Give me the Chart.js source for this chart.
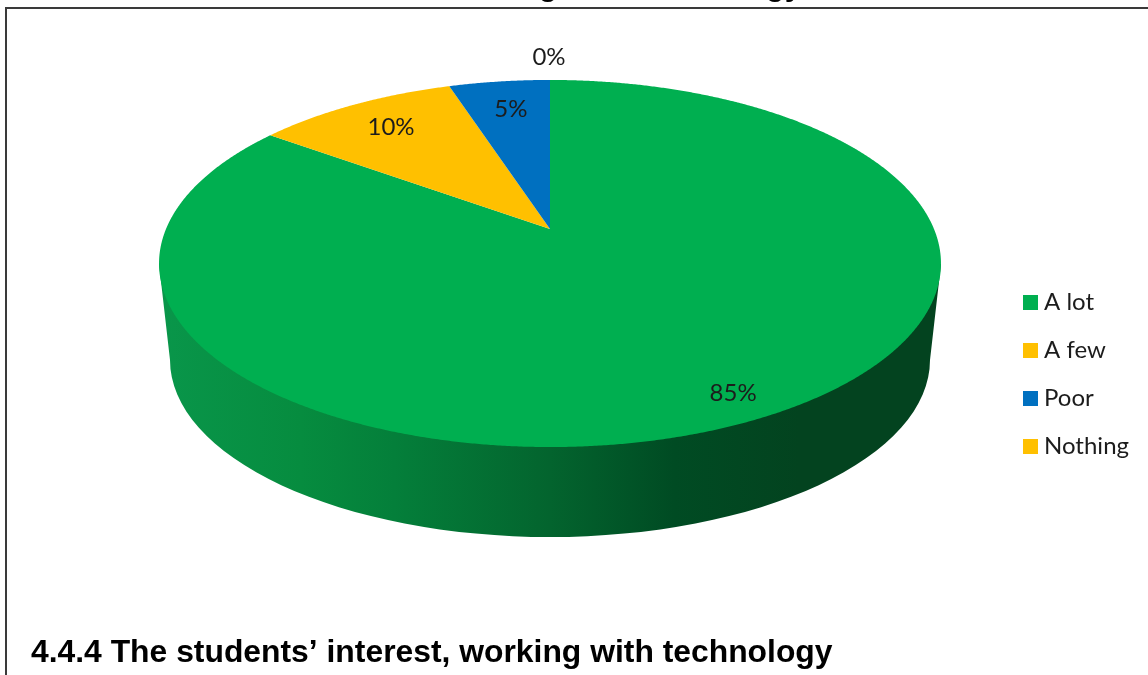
<!DOCTYPE html>
<html>
<head>
<meta charset="utf-8">
<script src="https://cdn.jsdelivr.net/npm/chart.js@4/dist/chart.umd.min.js"></script>
<style>
  html, body { margin: 0; padding: 0; background: #fff; overflow: hidden; }
  #wrap { position: relative; width: 1148px; height: 675px; }
  #frame { position: absolute; left: 5px; top: 7px; right: -4px; bottom: -4px;
           border-top: 2px solid #3a3a3a; border-left: 2px solid #3a3a3a; }
  canvas { position: absolute; left: 0; top: 0; }
</style>
</head>
<body>
<div id="wrap">
  <div id="frame"></div>
  <canvas id="chart" width="1148" height="675"></canvas>
</div>
<script>
const categories = ['A lot', 'A few', 'Poor', 'Nothing'];
const shares = [85, 10, 5, 0];
const sliceColors = ['#00AF50', '#FFC000', '#0070C0', '#FFC000'];

const headingText = '4.4.4 The students’ interest, working with technology';
const clippedCaption = 'working with technology';
const labelFont = '24px Lato';

// Where each percentage label sits: fraction of the disc radius, plus a small sideways nudge.
const labelPlacement = { radius: [0.885, 0.80, 0.786, 1.19], nudgeX: [2, 2, 2, -1], nudgeY: 0.5 };

// Perspective view of a flat disc: the hub sits above the ellipse centre.
const view = { cx: 550, hubY: 229, spreadX: 384, spreadY: 134, tilt: -0.188 };

function project(u, v) {
  const w = 1 + view.tilt * v;
  return [view.cx + view.spreadX * u / w, (view.spreadY * v + view.hubY) / w];
}

function traceSlice(ctx, start, end) {
  const steps = Math.max(1, Math.ceil((end - start) / 0.005));
  ctx.beginPath();
  ctx.moveTo(...project(0, 0));
  for (let i = 0; i <= steps; i++) {
    const a = start + (end - start) * i / steps;
    ctx.lineTo(...project(Math.cos(a), Math.sin(a)));
  }
  ctx.closePath();
}

function drawRim(ctx) {
  const floor = { y: 360, rx: 380, ry: 177 };
  const grad = ctx.createLinearGradient(160, 0, 940, 0);
  grad.addColorStop(0.00, '#09964A');
  grad.addColorStop(0.18, '#068C3F');
  grad.addColorStop(0.30, '#047F3A');
  grad.addColorStop(0.50, '#03642E');
  grad.addColorStop(0.66, '#004B23');
  grad.addColorStop(0.82, '#03431F');
  grad.addColorStop(1.00, '#03431F');
  ctx.fillStyle = grad;
  ctx.beginPath();
  ctx.moveTo(159, 264);
  ctx.lineTo(view.cx - floor.rx, floor.y);
  ctx.ellipse(view.cx, floor.y, floor.rx, floor.ry, 0, Math.PI, 0, true);
  ctx.lineTo(941, 264);
  ctx.closePath();
  ctx.fill();
}

const tiltedPie = {
  id: 'tiltedPie',
  beforeDatasetsDraw(chart) {
    const ctx = chart.ctx;
    const arcs = chart.getDatasetMeta(0).data;
    ctx.save();
    drawRim(ctx);
    arcs.forEach((arc, i) => {
      if (arc.endAngle <= arc.startAngle) return;
      traceSlice(ctx, arc.startAngle, arc.endAngle);
      ctx.fillStyle = sliceColors[i];
      ctx.fill();
    });
    ctx.restore();
    return false;
  },
  afterDraw(chart) {
    const ctx = chart.ctx;
    const arcs = chart.getDatasetMeta(0).data;
    ctx.save();
    ctx.fillStyle = '#1c1c1c';
    ctx.font = labelFont;
    ctx.textAlign = 'center';
    ctx.textBaseline = 'middle';
    arcs.forEach((arc, i) => {
      const mid = (arc.startAngle + arc.endAngle) / 2;
      const r = labelPlacement.radius[i];
      const [x, y] = project(r * Math.cos(mid), r * Math.sin(mid));
      ctx.fillText(shares[i] + '%', x + labelPlacement.nudgeX[i], y + labelPlacement.nudgeY);
    });
    ctx.fillStyle = '#000';
    ctx.font = 'bold 31.85px "Liberation Sans"';
    ctx.textAlign = 'left';
    ctx.textBaseline = 'alphabetic';
    ctx.fillText(headingText, 31, 662);
    // Line of running text above the frame; only its descenders fall on the page.
    ctx.font = 'bold 31px "Liberation Sans"';
    ctx.textAlign = 'right';
    ctx.fillText(clippedCaption, 802, -5);
    ctx.restore();
  }
};

new Chart(document.getElementById('chart'), {
  type: 'pie',
  data: {
    labels: categories,
    datasets: [{ data: shares, backgroundColor: sliceColors, borderWidth: 0 }]
  },
  options: {
    responsive: false,
    animation: false,
    layout: { padding: { top: 74, bottom: 0, right: 9, left: 0 } },
    plugins: {
      tooltip: { enabled: false },
      legend: {
        position: 'right',
        labels: {
          font: { family: 'Lato', size: 24 },
          color: '#1c1c1c',
          padding: 24,
          boxWidth: 3,
          boxHeight: 3,
          generateLabels: () => categories.map((text, i) => ({
            text, index: i,
            fillStyle: sliceColors[i],
            strokeStyle: sliceColors[i],
            lineWidth: 12,
            fontColor: '#1c1c1c'
          }))
        }
      }
    }
  },
  plugins: [tiltedPie]
});
</script>
</body>
</html>
